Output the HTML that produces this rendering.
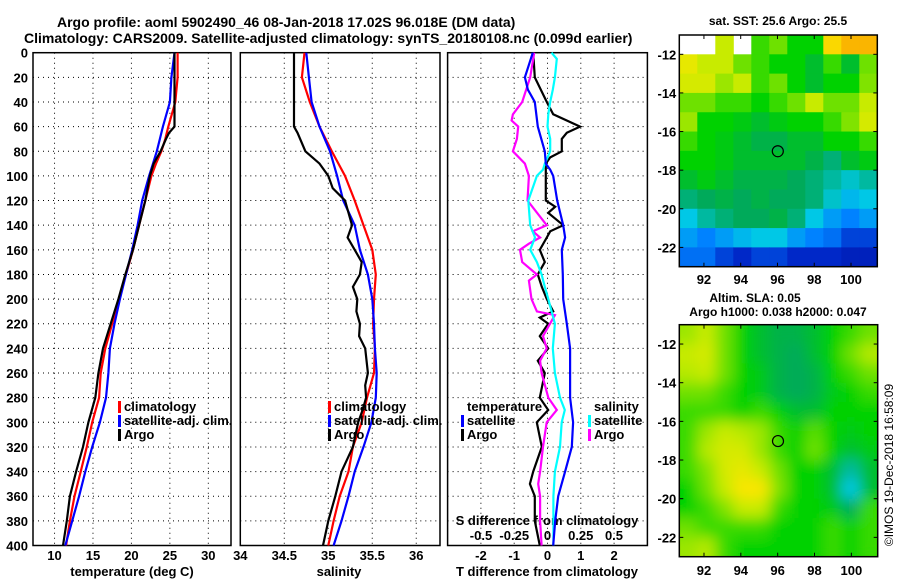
<!DOCTYPE html>
<html><head><meta charset="utf-8"><style>
html,body{margin:0;padding:0;background:#fff;}
svg text{font-family:"Liberation Sans",sans-serif;font-weight:bold;fill:#000;}
</style></head><body>
<svg id="c" width="900" height="580" viewBox="0 0 900 580" xmlns="http://www.w3.org/2000/svg">
<text x="57" y="27" font-size="14">Argo profile: aoml 5902490_46 08-Jan-2018 17.02S 96.018E (DM data)</text>
<text x="24" y="43" font-size="14">Climatology: CARS2009. Satellite-adjusted climatology: synTS_20180108.nc (0.099d earlier)</text>
<text x="132" y="576" font-size="13" text-anchor="middle">temperature (deg C)</text>
<text x="339" y="576" font-size="13" text-anchor="middle">salinity</text>
<text x="547" y="576" font-size="13" text-anchor="middle">T difference from climatology</text>
<text x="547" y="525" font-size="13" text-anchor="middle">S difference from climatology</text>
<text x="778" y="25" font-size="12" text-anchor="middle">sat. SST: 25.6 Argo: 25.5</text>
<text x="755" y="302" font-size="12" text-anchor="middle">Altim. SLA: 0.05</text>
<text x="778" y="316" font-size="12" text-anchor="middle">Argo h1000: 0.038 h2000: 0.047</text>
<text transform="translate(893,465) rotate(-90)" font-size="12" text-anchor="middle" style="font-weight:normal">©IMOS 19-Dec-2018 16:58:09</text>
</svg>
<script>
// ---- profile data ----
const tArgoDepth=[0,20,40,60,65,70,80,90,100,120,140,160,180,200,220,240,260,280,300,320,340,360,380,400];
const tArgo=[25.6,25.6,25.6,25.6,24.9,24.5,23.8,22.9,22.4,21.8,21.0,20.2,19.2,18.3,17.3,16.3,15.7,15.3,14.4,13.7,12.8,12.0,11.6,11.1];
const tClimDepth=[0,20,40,60,65,70,80,90,100,120,140,160,180,200,220,240,260,280,300,320,340,360,380,400];
const tClim=[26.0,26.0,25.7,24.8,24.6,24.4,23.9,23.2,22.6,21.8,21.0,20.2,19.3,18.4,17.5,16.6,16.0,15.8,14.9,14.2,13.4,12.6,12.0,11.5];
const tSat=[25.6,25.2,25.0,24.1,23.9,23.7,23.3,22.8,22.3,21.4,20.8,20.1,19.3,18.5,17.8,17.2,17.0,16.7,15.9,14.9,14.0,13.2,12.3,11.4];
const sArgoDepth=[0,60,65,80,90,100,110,120,140,150,160,170,180,190,200,210,220,230,240,260,270,280,290,300,320,340,360,380,400];
const sArgo=[34.61,34.61,34.65,34.74,34.9,35.0,35.05,35.19,35.27,35.22,35.3,35.38,35.36,35.28,35.33,35.32,35.36,35.35,35.42,35.45,35.42,35.43,35.39,35.34,35.28,35.15,35.08,35.0,34.94];
const sClimDepth=[0,20,40,60,80,100,120,140,160,180,200,220,240,260,280,300,320,340,360,380,400];
const sClim=[34.73,34.70,34.79,34.9,35.04,35.19,35.3,35.4,35.5,35.54,35.52,35.51,35.53,35.52,35.44,35.38,35.28,35.23,35.13,35.06,35.0];
const sSat=[34.75,34.78,34.81,34.9,35.02,35.1,35.17,35.3,35.36,35.45,35.5,35.52,35.53,35.55,35.54,35.49,35.4,35.3,35.23,35.15,35.06];
const dTArgoDepth=[0,20,40,50,60,65,70,80,85,90,100,120,125,130,140,145,150,160,170,180,190,200,210,215,220,230,240,250,260,280,290,300,320,340,350,360,380,400];
const dTArgo=[-0.43,-0.38,-0.02,0.17,0.98,0.58,0.43,0.43,0.08,-0.05,-0.05,-0.05,0.23,0.02,0.47,0.08,-0.02,-0.23,-0.08,-0.29,-0.17,-0.02,0.17,-0.23,0.02,-0.23,0.02,-0.29,-0.08,-0.23,0.02,-0.32,-0.17,-0.43,-0.53,-0.38,-0.38,-0.23];
const dTSatDepth=[0,20,30,40,60,80,90,95,100,120,140,150,160,180,200,220,240,260,280,300,320,340,360,380,400];
const dTSat=[-0.44,-0.68,-0.59,-0.38,-0.29,-0.08,-0.05,0.08,0.17,0.29,0.47,0.53,0.43,0.46,0.47,0.58,0.68,0.68,0.68,0.77,0.73,0.53,0.32,0.23,0.17];
const dSSatDepth=[0,5,20,30,40,50,60,70,80,90,95,100,120,140,150,160,170,180,190,200,220,240,260,280,290,300,320,340,360,380,400];
const dSSat=[0.03,0.07,0.056,0.04,0.02,0.006,0,0.02,0.02,-0.02,-0.034,-0.08,-0.144,-0.13,-0.094,-0.13,-0.08,-0.044,-0.02,0.006,0.056,0.04,0.056,0.094,0.13,0.107,0.094,0.056,0.044,0.044,0.044];
const dSArgoDepth=[0,20,40,50,55,60,70,80,90,100,120,140,145,150,155,160,170,180,185,200,210,213,230,240,250,260,280,290,300,320,340,350,360,380,400];
const dSArgo=[-0.10,-0.13,-0.19,-0.26,-0.27,-0.22,-0.23,-0.26,-0.17,-0.14,-0.15,-0.006,-0.11,-0.056,-0.14,-0.207,-0.19,-0.08,-0.14,-0.12,-0.08,0.056,-0.034,-0.006,-0.056,-0.044,0.006,0.07,-0.006,-0.034,-0.056,-0.07,-0.056,-0.056,-0.044];
const depthTicks=[0,20,40,60,80,100,120,140,160,180,200,220,240,260,280,300,320,340,360,380,400];
const tTicks=[10,15,20,25,30];
const sTicks=[34,34.5,35,35.5,36];
const dTTicks=[-2,-1,0,1,2];
const dSTicks=[-0.5,-0.25,0,0.25,0.5];
const dSTickLabels=["-0.5","-0.25","0","0.25","0.5"];
// ---- map data (rows top=-11 to bottom=-23, cols 90.66E to 101.43E) ----
const sstGrid=[
[null,null,0.7,null,0.55,0.6,0.5,0.5,0.8,0.85,0.85],
[0.75,0.7,0.7,0.6,0.55,0.5,0.5,0.45,0.55,0.45,0.6],
[0.72,0.72,0.65,0.7,0.55,0.6,0.5,0.45,0.5,0.5,0.62],
[0.6,0.6,0.55,0.55,0.5,0.55,0.6,0.7,0.6,0.6,0.7],
[0.65,0.5,0.5,0.48,0.45,0.48,0.5,0.5,0.55,0.62,0.72],
[0.55,0.5,0.48,0.45,0.42,0.42,0.45,0.45,0.5,0.5,0.55],
[0.5,0.5,0.48,0.45,0.45,0.45,0.45,0.42,0.38,0.45,0.48],
[0.45,0.48,0.45,0.42,0.42,0.42,0.4,0.38,0.35,0.32,0.35],
[0.38,0.4,0.42,0.4,0.42,0.4,0.4,0.38,0.32,0.28,0.3],
[0.3,0.35,0.38,0.4,0.4,0.42,0.38,0.3,0.25,0.22,0.25],
[0.25,0.22,0.25,0.28,0.3,0.3,0.25,0.22,0.2,0.15,0.15],
[0.2,0.2,0.15,0.12,0.15,0.15,0.12,0.12,0.12,0.1,0.1]];
const slaGrid=[
[0.65,0.7,0.6,0.5,0.45,0.42,0.42,0.45,0.5,0.55,0.6],
[0.7,0.72,0.6,0.5,0.45,0.42,0.4,0.45,0.5,0.6,0.68],
[0.68,0.7,0.6,0.5,0.48,0.42,0.4,0.42,0.5,0.55,0.6],
[0.6,0.6,0.55,0.5,0.48,0.42,0.4,0.42,0.48,0.5,0.55],
[0.55,0.55,0.55,0.5,0.55,0.5,0.45,0.45,0.5,0.5,0.5],
[0.55,0.65,0.7,0.68,0.65,0.55,0.5,0.58,0.5,0.48,0.5],
[0.55,0.68,0.72,0.72,0.65,0.55,0.5,0.6,0.5,0.45,0.48],
[0.55,0.62,0.72,0.75,0.7,0.6,0.5,0.5,0.45,0.35,0.45],
[0.5,0.6,0.7,0.78,0.78,0.62,0.5,0.5,0.45,0.3,0.45],
[0.5,0.55,0.62,0.7,0.7,0.55,0.5,0.5,0.48,0.4,0.55],
[0.6,0.55,0.55,0.55,0.55,0.5,0.5,0.5,0.55,0.5,0.55],
[0.65,0.68,0.55,0.5,0.5,0.5,0.5,0.5,0.55,0.5,0.55]];
const lonTicks=[92,94,96,98,100];
const latTicks=[-12,-14,-16,-18,-20,-22];
const floatLon=[96.018];
const floatLat=[-17.02];

const NS="http://www.w3.org/2000/svg";
const svg=document.getElementById('c');
function mk(tag,attrs,parent){const e=document.createElementNS(NS,tag);for(const k in attrs)e.setAttribute(k,attrs[k]);(parent||svg).appendChild(e);return e;}
const yTop=52.7,yBot=545.5;
const yD=d=>yTop+(yBot-yTop)*d/400;

function panel(name,x0,x1,vmin,vmax,grid){
  const sx=v=>x0+(v-vmin)/(vmax-vmin)*(x1-x0);
  const g=mk('g',{});
  
  
  grid.forEach(v=>{const l=mk('line',{x1:sx(v),x2:sx(v),y1:yTop,y2:yBot,stroke:'#000','stroke-width':1,'stroke-dasharray':'1,4'},g);
    });
  depthTicks.slice(1,-1).forEach(d=>{const l=mk('line',{x1:x0,x2:x1,y1:yD(d),y2:yD(d),stroke:'#000','stroke-width':1,'stroke-dasharray':'1,4'},g);
    });
  const r=mk('rect',{x:x0,y:yTop,width:x1-x0,height:yBot-yTop,fill:'none',stroke:'#000','stroke-width':1.5},g);
  
  return {g,sx};
}
function line(p,depths,vals,sx,color,name){
  const pts=depths.map((d,i)=>sx(vals[i]).toFixed(1)+','+yD(d).toFixed(1)).join(' ');
  const pl=mk('polyline',{points:pts,fill:'none',stroke:color,'stroke-width':2.2},p.g);
  
  
}
function txt(s,x,y,anchor,size,name,parent){const t=mk('text',{x:x,y:y,'text-anchor':anchor,'font-size':size},parent);t.textContent=s;
  return t;}
function legend(items,x,y){items.forEach((it,i)=>{const yy=y+i*14;
  const m=mk('rect',{x:x,y:yy-10,width:3,height:12,fill:it[1]});
  
  txt(it[0],x+6,yy,'start',13,'legend-entry');});}

depthTicks.forEach(d=>txt(String(d),28,yD(d)+5,'end',13,'depth-tick-label'));

const p1=panel('temperature-panel',33,231,7.2,32.95,tTicks);
line(p1,tClimDepth,tClim,p1.sx,'#ff0000','climatology-temperature-line');
line(p1,tClimDepth,tSat,p1.sx,'#0000ff','satellite-temperature-line');
line(p1,tArgoDepth,tArgo,p1.sx,'#000000','argo-temperature-line');
tTicks.forEach(v=>txt(String(v),p1.sx(v),560,'middle',13,'temperature-tick-label'));
legend([['climatology','#f00'],['satellite-adj. clim.','#00f'],['Argo','#000']],118,411);

const p2=panel('salinity-panel',240.3,440,34,36.27,sTicks.slice(1));
line(p2,sClimDepth,sClim,p2.sx,'#ff0000','climatology-salinity-line');
line(p2,sClimDepth,sSat,p2.sx,'#0000ff','satellite-salinity-line');
line(p2,sArgoDepth,sArgo,p2.sx,'#000000','argo-salinity-line');
sTicks.forEach(v=>txt(String(v),p2.sx(v),560,'middle',13,'salinity-tick-label'));
legend([['climatology','#f00'],['satellite-adj. clim.','#00f'],['Argo','#000']],328,411);

const p3=panel('difference-panel',447.6,647.4,-3,3,dTTicks);
const sxS=v=>547.5+v*133;
line(p3,dTArgoDepth,dTArgo,p3.sx,'#000000','argo-t-difference-line');
line(p3,dSArgoDepth,dSArgo,sxS,'#ff00ff','argo-s-difference-line');
line(p3,dSSatDepth,dSSat,sxS,'#00ffff','satellite-s-difference-line');
line(p3,dTSatDepth,dTSat,p3.sx,'#0000ff','satellite-t-difference-line');
dTTicks.forEach(v=>txt(String(v),p3.sx(v),560,'middle',13,'t-difference-tick-label'));
dSTicks.forEach((v,i)=>txt(dSTickLabels[i],sxS(v),540,'middle',13,'s-difference-tick-label'));
txt('temperature',467,411,'start',13,'legend-title-temperature');
legend([['satellite','#00f'],['Argo','#000']],461,425);
txt('salinity',594,411,'start',13,'legend-title-salinity');
legend([['satellite','#0ff'],['Argo','#f0f']],588,425);

const stops=[[0,[0,0,130]],[0.12,[0,40,200]],[0.22,[0,130,255]],[0.3,[0,200,230]],[0.4,[0,170,90]],[0.5,[0,210,0]],[0.6,[110,225,0]],[0.7,[200,235,0]],[0.78,[250,230,0]],[0.88,[250,160,0]],[1,[200,80,0]]];
function cmap(v){for(let i=1;i<stops.length;i++){if(v<=stops[i][0]){const a=stops[i-1],b=stops[i];const t=(v-a[0])/(b[0]-a[0]);
  return 'rgb('+a[1].map((c,k)=>Math.round(c+(b[1][k]-c)*t)).join(',')+')';}}return 'rgb(200,80,0)';}

function map(name,gridData,x0,x1,y0,y1,lonLabelY,blur){
  const lon0=90.66,lon1=101.43,lat0=-11,lat1=-23;
  const sx=lon=>x0+(lon-lon0)/(lon1-lon0)*(x1-x0);
  const sy=lat=>y0+(lat-lat0)/(lat1-lat0)*(y1-y0);
  const g=mk('g',{});
  
  
  const id='clip'+name;
  const cp=mk('clipPath',{id:id},g);mk('rect',{x:x0,y:y0,width:x1-x0,height:y1-y0},cp);
  const cells=mk('g',{'clip-path':'url(#'+id+')'},g);
  const inner=mk('g',blur?{filter:'url(#bl)'}:{},cells);
  const nr=gridData.length,nc=gridData[0].length;
  const cw=(x1-x0)/nc,ch=(y1-y0)/nr;
  gridData.forEach((row,r)=>row.forEach((v,c)=>{if(v===null)return;
    const e=mk('rect',{x:x0+c*cw,y:y0+r*ch,width:cw+0.5,height:ch+0.5,fill:cmap(v)},inner);
    }));
  const fr=mk('rect',{x:x0,y:y0,width:x1-x0,height:y1-y0,fill:'none',stroke:'#000','stroke-width':1.5},g);
  
  lonTicks.forEach(l=>{mk('line',{x1:sx(l),x2:sx(l),y1:y0,y2:y0+4,stroke:'#000'},g);mk('line',{x1:sx(l),x2:sx(l),y1:y1,y2:y1-4,stroke:'#000'},g);
    txt(String(l),sx(l),lonLabelY,'middle',13,'longitude-tick-label',g);});
  latTicks.forEach(l=>{mk('line',{x1:x0,x2:x0+4,y1:sy(l),y2:sy(l),stroke:'#000'},g);mk('line',{x1:x1,x2:x1-4,y1:sy(l),y2:sy(l),stroke:'#000'},g);
    txt(String(l),x0-3,sy(l)+5,'end',13,'latitude-tick-label',g);});
  const c=mk('circle',{cx:sx(floatLon[0]),cy:sy(floatLat[0]),r:5.5,fill:'none',stroke:'#000','stroke-width':1.2},g);
  
}
const defs=mk('defs',{});
const f=mk('filter',{id:'bl',x:'-10%',y:'-10%',width:'120%',height:'120%'},defs);
mk('feGaussianBlur',{stdDeviation:7,result:'b'},f);
const ct=mk('feComponentTransfer',{in:'b'},f);
mk('feFuncA',{type:'linear',slope:40,intercept:0},ct);
map('sst-map',sstGrid,679.3,877.3,35,266.7,284,false);
map('sla-map',slaGrid,679.3,877.7,324.7,556.7,575,true);
</script>
</body></html>
